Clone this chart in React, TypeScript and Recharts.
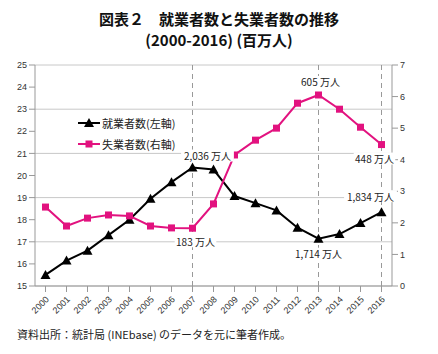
import React from "react";
import {
  LineChart,
  Line,
  XAxis,
  YAxis,
  CartesianGrid,
  ReferenceLine,
  Legend,
  LabelList,
} from "recharts";

document.body.style.margin = "0";

const years = [
  "2000", "2001", "2002", "2003", "2004", "2005", "2006", "2007", "2008",
  "2009", "2010", "2011", "2012", "2013", "2014", "2015", "2016",
];
// 就業者数 (百万人, 左軸)
const employed = [
  15.5, 16.15, 16.6, 17.3, 18.0, 18.95, 19.7, 20.36, 20.27,
  19.07, 18.75, 18.42, 17.64, 17.14, 17.35, 17.85, 18.34,
];
// 失業者数 (百万人, 右軸)
const unemployed = [
  2.5, 1.9, 2.15, 2.25, 2.22, 1.9, 1.84, 1.83, 2.6,
  4.15, 4.62, 5.0, 5.79, 6.05, 5.6, 5.03, 4.48,
];
const leftTicks = [15, 16, 17, 18, 19, 20, 21, 22, 23, 24, 25];
const rightTicks = [0, 1, 2, 3, 4, 5, 6, 7];
const markedYears = ["2007", "2013", "2016"];

const employedNotes = [
  { index: 7, text: "2,036 万人", dx: 15, dy: -12 },
  { index: 13, text: "1,714 万人", dx: 0, dy: 15 },
  { index: 16, text: "1,834 万人", dx: -11, dy: -16 },
];
const unemployedNotes = [
  { index: 7, text: "183 万人", dx: 3, dy: 13 },
  { index: 13, text: "605 万人", dx: 2, dy: -13 },
  { index: 16, text: "448 万人", dx: -7, dy: 14 },
];

const data = years.map((y, i) => ({
  year: y,
  employed: employed[i],
  unemployed: unemployed[i],
}));

const PINK = "#e2127f";
const FONT = "'Noto Sans CJK JP', 'Liberation Sans', sans-serif";

const Triangle = (props: any) => {
  const { cx, cy, index } = props;
  if (cx == null || cy == null) return <g key={index} />;
  return (
    <path
      key={index}
      d={`M${cx},${cy - 5} L${cx + 5},${cy + 4} L${cx - 5},${cy + 4} Z`}
      fill="#000"
    />
  );
};

const Square = (props: any) => {
  const { cx, cy, index } = props;
  if (cx == null || cy == null) return <g key={index} />;
  return <rect key={index} x={cx - 3.5} y={cy - 3.5} width={7} height={7} fill={PINK} />;
};

// rough text width for the white box behind a note
const textWidth = (s: string) =>
  s.split("").reduce((w, c) => w + (c.charCodeAt(0) > 255 ? 10 : c === " " ? 2.8 : 5.6), 0);

const noteLabel = (notes: { index: number; text: string; dx: number; dy: number }[]) =>
  (props: any) => {
    const { x, y, index } = props;
    const n = notes.find((m) => m.index === index);
    if (!n) return null;
    const w = textWidth(n.text) + 2;
    return (
      <g>
        <rect x={x + n.dx - w / 2} y={y + n.dy - 6} width={w} height={12} fill="#fff" />
        <text
          x={x + n.dx}
          y={y + n.dy}
          textAnchor="middle"
          dominantBaseline="central"
          fontSize={10}
          fontFamily={FONT}
          fill="#222"
        >
          {n.text}
        </text>
      </g>
    );
  };

const LegendBox = () => (
  <div style={{ fontFamily: FONT, fontSize: 11, color: "#222" }}>
    <div style={{ display: "flex", alignItems: "center", height: 21 }}>
      <svg width={26} height={12}>
        <line x1={2} y1={6} x2={24} y2={6} stroke="#000" strokeWidth={2} />
        <path d="M13,1 L18,10 L8,10 Z" fill="#000" />
      </svg>
      <span>就業者数(左軸)</span>
    </div>
    <div style={{ display: "flex", alignItems: "center", height: 21 }}>
      <svg width={26} height={12}>
        <line x1={2} y1={6} x2={24} y2={6} stroke={PINK} strokeWidth={2} />
        <rect x={9.5} y={2.5} width={7} height={7} fill={PINK} />
      </svg>
      <span>失業者数(右軸)</span>
    </div>
  </div>
);

const YearTick = (props: any) => {
  const { x, y, payload } = props;
  return (
    <text
      x={x + 4}
      y={y + 6}
      transform={`rotate(-45 ${x + 4} ${y + 6})`}
      textAnchor="end"
      fontSize={9}
      fontFamily="'Liberation Sans', sans-serif"
      fill="#333"
    >
      {payload.value}
    </text>
  );
};

export default function App() {
  return (
    <div style={{ position: "relative", width: 438, height: 354, background: "#fff" }}>
      <div
        style={{
          position: "absolute",
          top: 8,
          left: 0,
          width: 438,
          textAlign: "center",
          fontFamily: FONT,
          fontWeight: 700,
          fontSize: 15,
          lineHeight: "21px",
          color: "#111",
        }}
      >
        <div>図表２　就業者数と失業者数の推移</div>
        <div>(2000-2016) (百万人)</div>
      </div>
      <div style={{ position: "absolute", top: 0, left: 0 }}>
        <LineChart
          width={438}
          height={354}
          data={data}
          margin={{ top: 65, right: 16, bottom: 28, left: 5 }}
        >
          <CartesianGrid
            yAxisId="left"
            vertical={false}
            stroke="#c8c8c8"
          />
          <XAxis
            dataKey="year"
            height={40}
            interval={0}
            padding={{ left: 10.5, right: 10.5 }}
            tick={<YearTick />}
            tickLine={{ stroke: "#999" }}
            axisLine={{ stroke: "#999" }}
          />
          <YAxis
            yAxisId="left"
            domain={[15, 25]}
            ticks={leftTicks}
            width={30}
            tick={{ fontSize: 9, fill: "#333", fontFamily: "'Liberation Sans', sans-serif" }}
            tickLine={{ stroke: "#999" }}
            axisLine={{ stroke: "#999" }}
          />
          <YAxis
            yAxisId="right"
            orientation="right"
            domain={[0, 7]}
            ticks={rightTicks}
            width={30}
            tick={{ fontSize: 9, fill: "#333", fontFamily: "'Liberation Sans', sans-serif" }}
            tickLine={{ stroke: "#999" }}
            axisLine={{ stroke: "#999" }}
          />
          {markedYears.map((y) => (
            <ReferenceLine
              key={y}
              x={y}
              yAxisId="left"
              stroke="#999"
              strokeDasharray="5 4"
            />
          ))}
          <Legend
            layout="vertical"
            align="center"
            verticalAlign="middle"
            content={<LegendBox />}
            wrapperStyle={{ left: 76, top: 112, width: 120 }}
          />
          <Line
            yAxisId="left"
            dataKey="employed"
            name="就業者数(左軸)"
            stroke="#000"
            strokeWidth={2}
            dot={Triangle}
            activeDot={false}
            isAnimationActive={false}
          >
            <LabelList dataKey="employed" content={noteLabel(employedNotes)} />
          </Line>
          <Line
            yAxisId="right"
            dataKey="unemployed"
            name="失業者数(右軸)"
            stroke={PINK}
            strokeWidth={2}
            dot={Square}
            activeDot={false}
            isAnimationActive={false}
          >
            <LabelList dataKey="unemployed" content={noteLabel(unemployedNotes)} />
          </Line>
        </LineChart>
      </div>
      <div
        style={{
          position: "absolute",
          top: 326,
          left: 17,
          fontFamily: FONT,
          fontSize: 11,
          color: "#222",
        }}
      >
        資料出所：統計局 (INEbase) のデータを元に筆者作成。
      </div>
    </div>
  );
}
